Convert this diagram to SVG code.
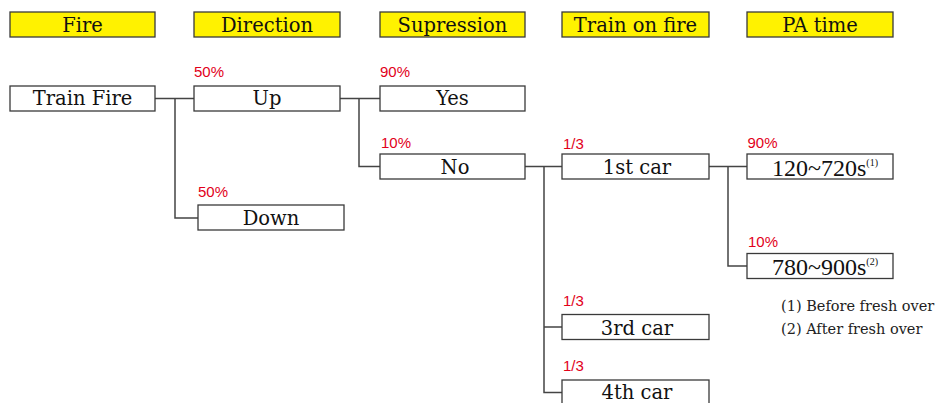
<svg xmlns="http://www.w3.org/2000/svg" width="939" height="403" viewBox="0 0 939 403">
<style>
.hdr{fill:#fff200;stroke:#3a3a3a;stroke-width:1.3}
.box{fill:#fff;stroke:#3a3a3a;stroke-width:1.3}
.t{font-family:"DejaVu Serif",serif;font-size:19.5px;fill:#111;text-anchor:middle}
.n{font-family:"Liberation Serif",serif;font-size:24px;fill:#111;text-anchor:middle}
.sup{font-size:10px}
.p{font-family:"Liberation Sans",Arial,sans-serif;font-size:15px;fill:#e2001a}
.fn{font-family:"DejaVu Serif",serif;font-size:14.5px;fill:#222}
.c{fill:none;stroke:#444;stroke-width:1.5}
</style>
<rect width="939" height="403" fill="#fff"/>
<g id="headers">
<g id="h-fire"><rect class="hdr" x="10" y="12" width="145" height="25"/><text class="t" x="82.5" y="31.5">Fire</text></g>
<g id="h-direction"><rect class="hdr" x="194" y="12" width="146" height="25"/><text class="t" x="267" y="31.5">Direction</text></g>
<g id="h-supression"><rect class="hdr" x="380" y="12" width="145" height="25"/><text class="t" x="452.5" y="31.5">Supression</text></g>
<g id="h-train"><rect class="hdr" x="562" y="12" width="147" height="25"/><text class="t" x="635.5" y="31.5">Train on fire</text></g>
<g id="h-pa"><rect class="hdr" x="747" y="12" width="146" height="25"/><text class="t" x="820" y="31.5">PA time</text></g>
</g>
<g id="connectors">
<path class="c" d="M155 98.5H194M175 98.5V218H198"/>
<path class="c" d="M340 98.5H380M359 98.5V166.5H380"/>
<path class="c" d="M525 166.5H562M544 166.5V392.5H562M544 327H562"/>
<path class="c" d="M709 166.5H747M728 166.5V266H747"/>
</g>
<g id="n-trainfire"><rect class="box" x="10" y="86" width="145" height="25"/><text class="t" x="82.5" y="104.5">Train Fire</text></g>
<g id="n-up"><text class="p" x="194" y="77">50%</text><rect class="box" x="194" y="86" width="146" height="25"/><text class="t" x="267" y="104.5">Up</text></g>
<g id="n-down"><text class="p" x="198" y="197">50%</text><rect class="box" x="198" y="205" width="146" height="25"/><text class="t" x="271" y="225">Down</text></g>
<g id="n-yes"><text class="p" x="380" y="77">90%</text><rect class="box" x="380" y="86" width="145" height="25"/><text class="t" x="452.5" y="104.5">Yes</text></g>
<g id="n-no"><text class="p" x="381" y="148">10%</text><rect class="box" x="380" y="154" width="145" height="25"/><text class="t" x="455" y="173.5">No</text></g>
<g id="n-1st"><text class="p" x="563" y="149">1/3</text><rect class="box" x="562" y="154" width="147" height="25"/><text class="t" x="637" y="174">1st car</text></g>
<g id="n-3rd"><text class="p" x="563" y="306">1/3</text><rect class="box" x="562" y="314.5" width="147" height="25"/><text class="t" x="637" y="335">3rd car</text></g>
<g id="n-4th"><text class="p" x="563" y="371">1/3</text><rect class="box" x="562" y="380" width="147" height="25"/><text class="t" x="637" y="399">4th car</text></g>
<g id="n-120"><text class="p" x="747.5" y="148">90%</text><rect class="box" x="747" y="154" width="146" height="25"/><text class="n" x="825" y="176">120~720s<tspan class="sup" dy="-10">(1)</tspan></text></g>
<g id="n-780"><text class="p" x="748" y="247">10%</text><rect class="box" x="747" y="253.5" width="146" height="25"/><text class="n" x="825" y="275">780~900s<tspan class="sup" dy="-10">(2)</tspan></text></g>
<g id="footnotes">
<text class="fn" x="781" y="311">(1) Before fresh over</text>
<text class="fn" x="781" y="334">(2) After fresh over</text>
</g>
</svg>
